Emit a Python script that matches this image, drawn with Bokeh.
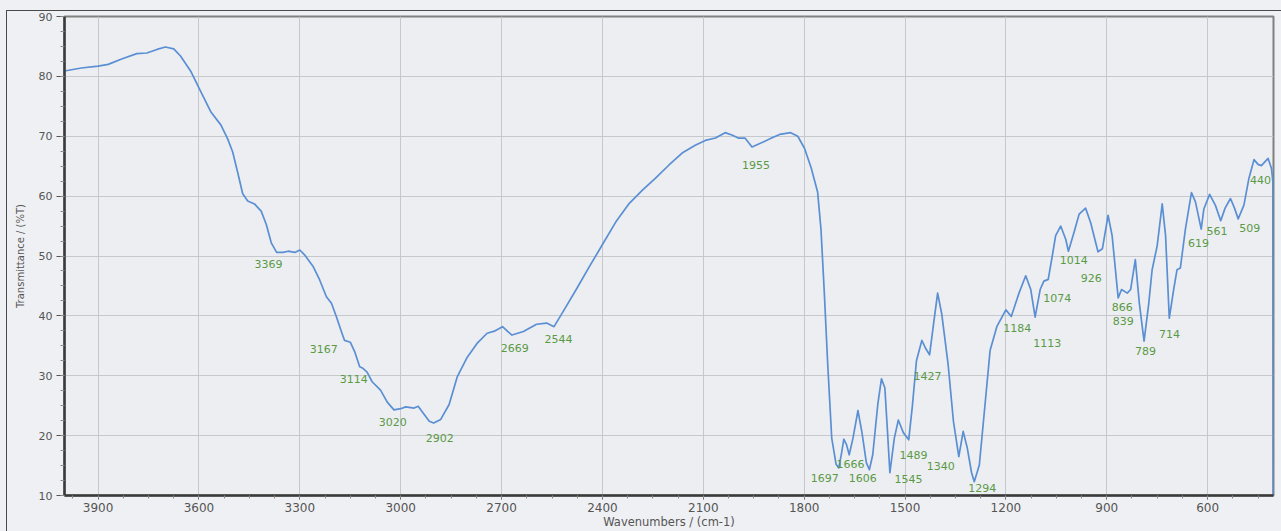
from bokeh.plotting import figure
from bokeh.models import Range1d, FixedTicker, ColumnDataSource
from bokeh.embed import file_html
from bokeh.resources import INLINE
from bokeh.core.properties import value

# IR spectrum: wavenumber (cm-1) and transmittance (%T)
wavenumber = [
    4000, 3950, 3900, 3870, 3830, 3785, 3755, 3725, 3700, 3675, 3655, 3625,
    3595, 3565, 3535, 3515, 3500, 3485, 3470, 3455, 3435, 3415, 3400, 3385,
    3369, 3350, 3335, 3315, 3300, 3286, 3261, 3241, 3221, 3206, 3191, 3176,
    3167, 3150, 3136, 3122, 3114, 3100, 3085, 3060, 3040, 3020, 3000, 2985,
    2960, 2948, 2935, 2915, 2902, 2881, 2856, 2832, 2802, 2773, 2743, 2719,
    2697, 2682, 2669, 2635, 2596, 2566, 2544, 2517, 2478, 2438, 2399, 2360,
    2320, 2281, 2242, 2202, 2163, 2124, 2094, 2064, 2035, 2015, 1996, 1976,
    1955, 1927, 1897, 1873, 1840, 1819, 1799, 1779, 1760, 1750, 1740, 1730,
    1718, 1705, 1697, 1689, 1682, 1674, 1666, 1655, 1640, 1628, 1615, 1606,
    1596, 1581, 1570, 1560, 1553, 1545, 1532, 1520, 1505, 1489, 1478, 1466,
    1450, 1438, 1427, 1415, 1403, 1391, 1372, 1356, 1340, 1327, 1315, 1302,
    1294, 1279, 1262, 1247, 1227, 1200, 1184, 1161, 1141, 1126, 1113, 1098,
    1087, 1074, 1062, 1052, 1037, 1022, 1014, 997, 982, 963, 948, 926,
    913, 896, 884, 866, 856, 839, 829, 815, 803, 789, 775, 765,
    750, 735, 725, 714, 701, 691, 681, 666, 648, 636, 619, 611,
    594, 577, 561, 548, 532, 520, 509, 492, 477, 462, 450, 440,
    420, 410, 406, 405,
]
transmittance = [
    80.9, 81.4, 81.7, 82.0, 82.9, 83.8, 83.9, 84.5, 84.9, 84.6, 83.4, 80.9,
    77.5, 74.1, 71.9, 69.6, 67.4, 64.0, 60.4, 59.2, 58.7, 57.5, 55.3, 52.2,
    50.6, 50.6, 50.8, 50.6, 51.0, 50.2, 48.3, 46.0, 43.2, 42.1, 39.8, 37.3,
    35.9, 35.6, 33.9, 31.5, 31.3, 30.6, 29.0, 27.6, 25.6, 24.3, 24.5, 24.8,
    24.6, 24.9, 23.9, 22.4, 22.1, 22.7, 25.2, 29.8, 33.1, 35.4, 37.1, 37.5,
    38.2, 37.4, 36.8, 37.4, 38.6, 38.8, 38.2, 40.7, 44.4, 48.3, 52.0, 55.7,
    58.8, 61.0, 63.0, 65.2, 67.2, 68.5, 69.3, 69.7, 70.6, 70.2, 69.7, 69.7,
    68.2, 68.9, 69.7, 70.3, 70.6, 70.0, 68.0, 64.7, 60.7, 54.5, 43.8, 32.0,
    19.6, 15.2, 14.6, 17.0, 19.4, 18.5, 16.8, 19.5, 24.2, 20.5, 15.5, 14.3,
    16.8, 25.2, 29.5, 28.0, 21.5, 13.8, 19.5, 22.6, 20.5, 19.3, 25.0, 32.5,
    35.9, 34.5, 33.5, 38.7, 43.8, 40.4, 32.0, 22.4, 16.5, 20.7, 18.0, 13.8,
    12.3, 15.1, 25.2, 34.2, 38.2, 41.0, 39.9, 43.8, 46.7, 44.4, 39.8, 44.4,
    45.8, 46.1, 50.0, 53.4, 55.0, 52.8, 50.8, 54.0, 57.0, 58.0, 55.6, 50.7,
    51.2, 56.8, 53.4, 43.0, 44.4, 43.8, 44.4, 49.4, 42.1, 35.8, 42.1, 47.7,
    51.7, 58.7, 53.4, 39.6, 44.4, 47.7, 48.0, 54.5, 60.6, 59.0, 54.5, 57.9,
    60.3, 58.5, 55.9, 58.0, 59.6, 58.0, 56.2, 58.5, 63.0, 66.1, 65.3, 65.1,
    66.3, 64.6, 62.5, 5.0,
]

# Peak annotations: text and where each one sits (wavenumber, %T)
peak_text = [
    "3369", "3167", "3114", "3020", "2902", "2669", "2544", "1955",
    "1697", "1666", "1606", "1545", "1489", "1427", "1340", "1294",
    "1184", "1113", "1074", "1014", "926", "866", "839", "789",
    "714", "619", "561", "509", "440",
]
peak_x = [
    3393, 3229, 3140, 3024, 2884, 2661, 2531, 1943,
    1739, 1662, 1626, 1490, 1475, 1433, 1394, 1270,
    1166, 1077, 1047, 998, 946, 854, 851, 785,
    713, 627, 572, 475, 443,
]
peak_y = [
    48.6, 34.5, 29.4, 22.3, 19.6, 34.7, 36.2, 65.2,
    13.0, 15.2, 12.9, 12.7, 16.8, 30.0, 14.9, 11.3,
    37.9, 35.5, 43.0, 49.3, 46.3, 41.4, 39.2, 34.1,
    36.9, 52.1, 54.2, 54.6, 62.7,
]

x_ticks = [3900, 3600, 3300, 3000, 2700, 2400, 2100, 1800, 1500, 1200, 900, 600]
x_minor = [3975 - 75 * i for i in range(48)]
y_ticks = [10, 20, 30, 40, 50, 60, 70, 80, 90]
y_minor = [10 + 2.5 * i for i in range(33)]

FONT = "DejaVu Sans"
PAGE = "#eff0f3"
RULE = "#4a4a4a"

p = figure(
    width=1281, height=531,
    x_range=Range1d(4000, 404), y_range=Range1d(10, 90),
    output_backend="svg", toolbar_location=None,
    min_border_left=64, min_border_right=8,
    min_border_top=16, min_border_bottom=34,
    background_fill_color="#eceef2", border_fill_alpha=0,
)

# page background with a thin frame line on the left and top edges
p.styles = {
    "background": (
        f"linear-gradient({RULE},{RULE}) 6px 10px / 1px 100% no-repeat, "
        f"linear-gradient({RULE},{RULE}) 6px 10px / 100% 1px no-repeat, "
        f"{PAGE}"
    ),
}

p.outline_line_color = "#808080"
p.outline_line_width = 2

p.xgrid.ticker = FixedTicker(ticks=x_ticks)
p.ygrid.ticker = FixedTicker(ticks=y_ticks)
p.grid.grid_line_color = "#c6c8cc"
p.grid.grid_line_width = 1

xa = p.xaxis[0]
ya = p.yaxis[0]
xa.ticker = FixedTicker(ticks=x_ticks, minor_ticks=x_minor)
ya.ticker = FixedTicker(ticks=y_ticks, minor_ticks=y_minor)

for ax in (xa, ya):
    ax.axis_line_color = "#3a3a3a"
    ax.axis_line_width = 2.5
    ax.major_tick_line_color = "#555555"
    ax.minor_tick_line_color = "#8a8a8a"
    ax.major_tick_in = 0
    ax.minor_tick_in = 0
    ax.major_label_text_font = FONT
    ax.major_label_text_color = "#555555"
    ax.axis_label_text_font = FONT
    ax.axis_label_text_font_style = "normal"
    ax.axis_label_text_color = "#555555"

xa.axis_label = "Wavenumbers / (cm-1)"
xa.major_tick_out = 4
xa.minor_tick_out = 3
xa.major_label_standoff = 3
xa.major_label_text_font_size = "12px"
xa.axis_label_text_font_size = "11.5px"
xa.axis_label_standoff = 0

ya.axis_label = "Transmittance / (%T)"
ya.major_tick_out = 8
ya.minor_tick_out = 4
ya.major_label_standoff = 4
ya.major_label_text_font_size = "11px"
ya.axis_label_text_font_size = "10px"
ya.axis_label_standoff = 10

spectrum = ColumnDataSource(data=dict(x=wavenumber, y=transmittance))
p.line("x", "y", source=spectrum, line_color="#5b8fd3", line_width=1.7,
       line_join="round")

peaks = ColumnDataSource(data=dict(x=peak_x, y=peak_y, text=peak_text))
p.text("x", "y", text="text", source=peaks,
       text_font=value(FONT), text_font_size=value("11px"),
       text_color="#5b9a45", text_align="center", text_baseline="middle")

open("out.html", "w").write(file_html(p, INLINE))
